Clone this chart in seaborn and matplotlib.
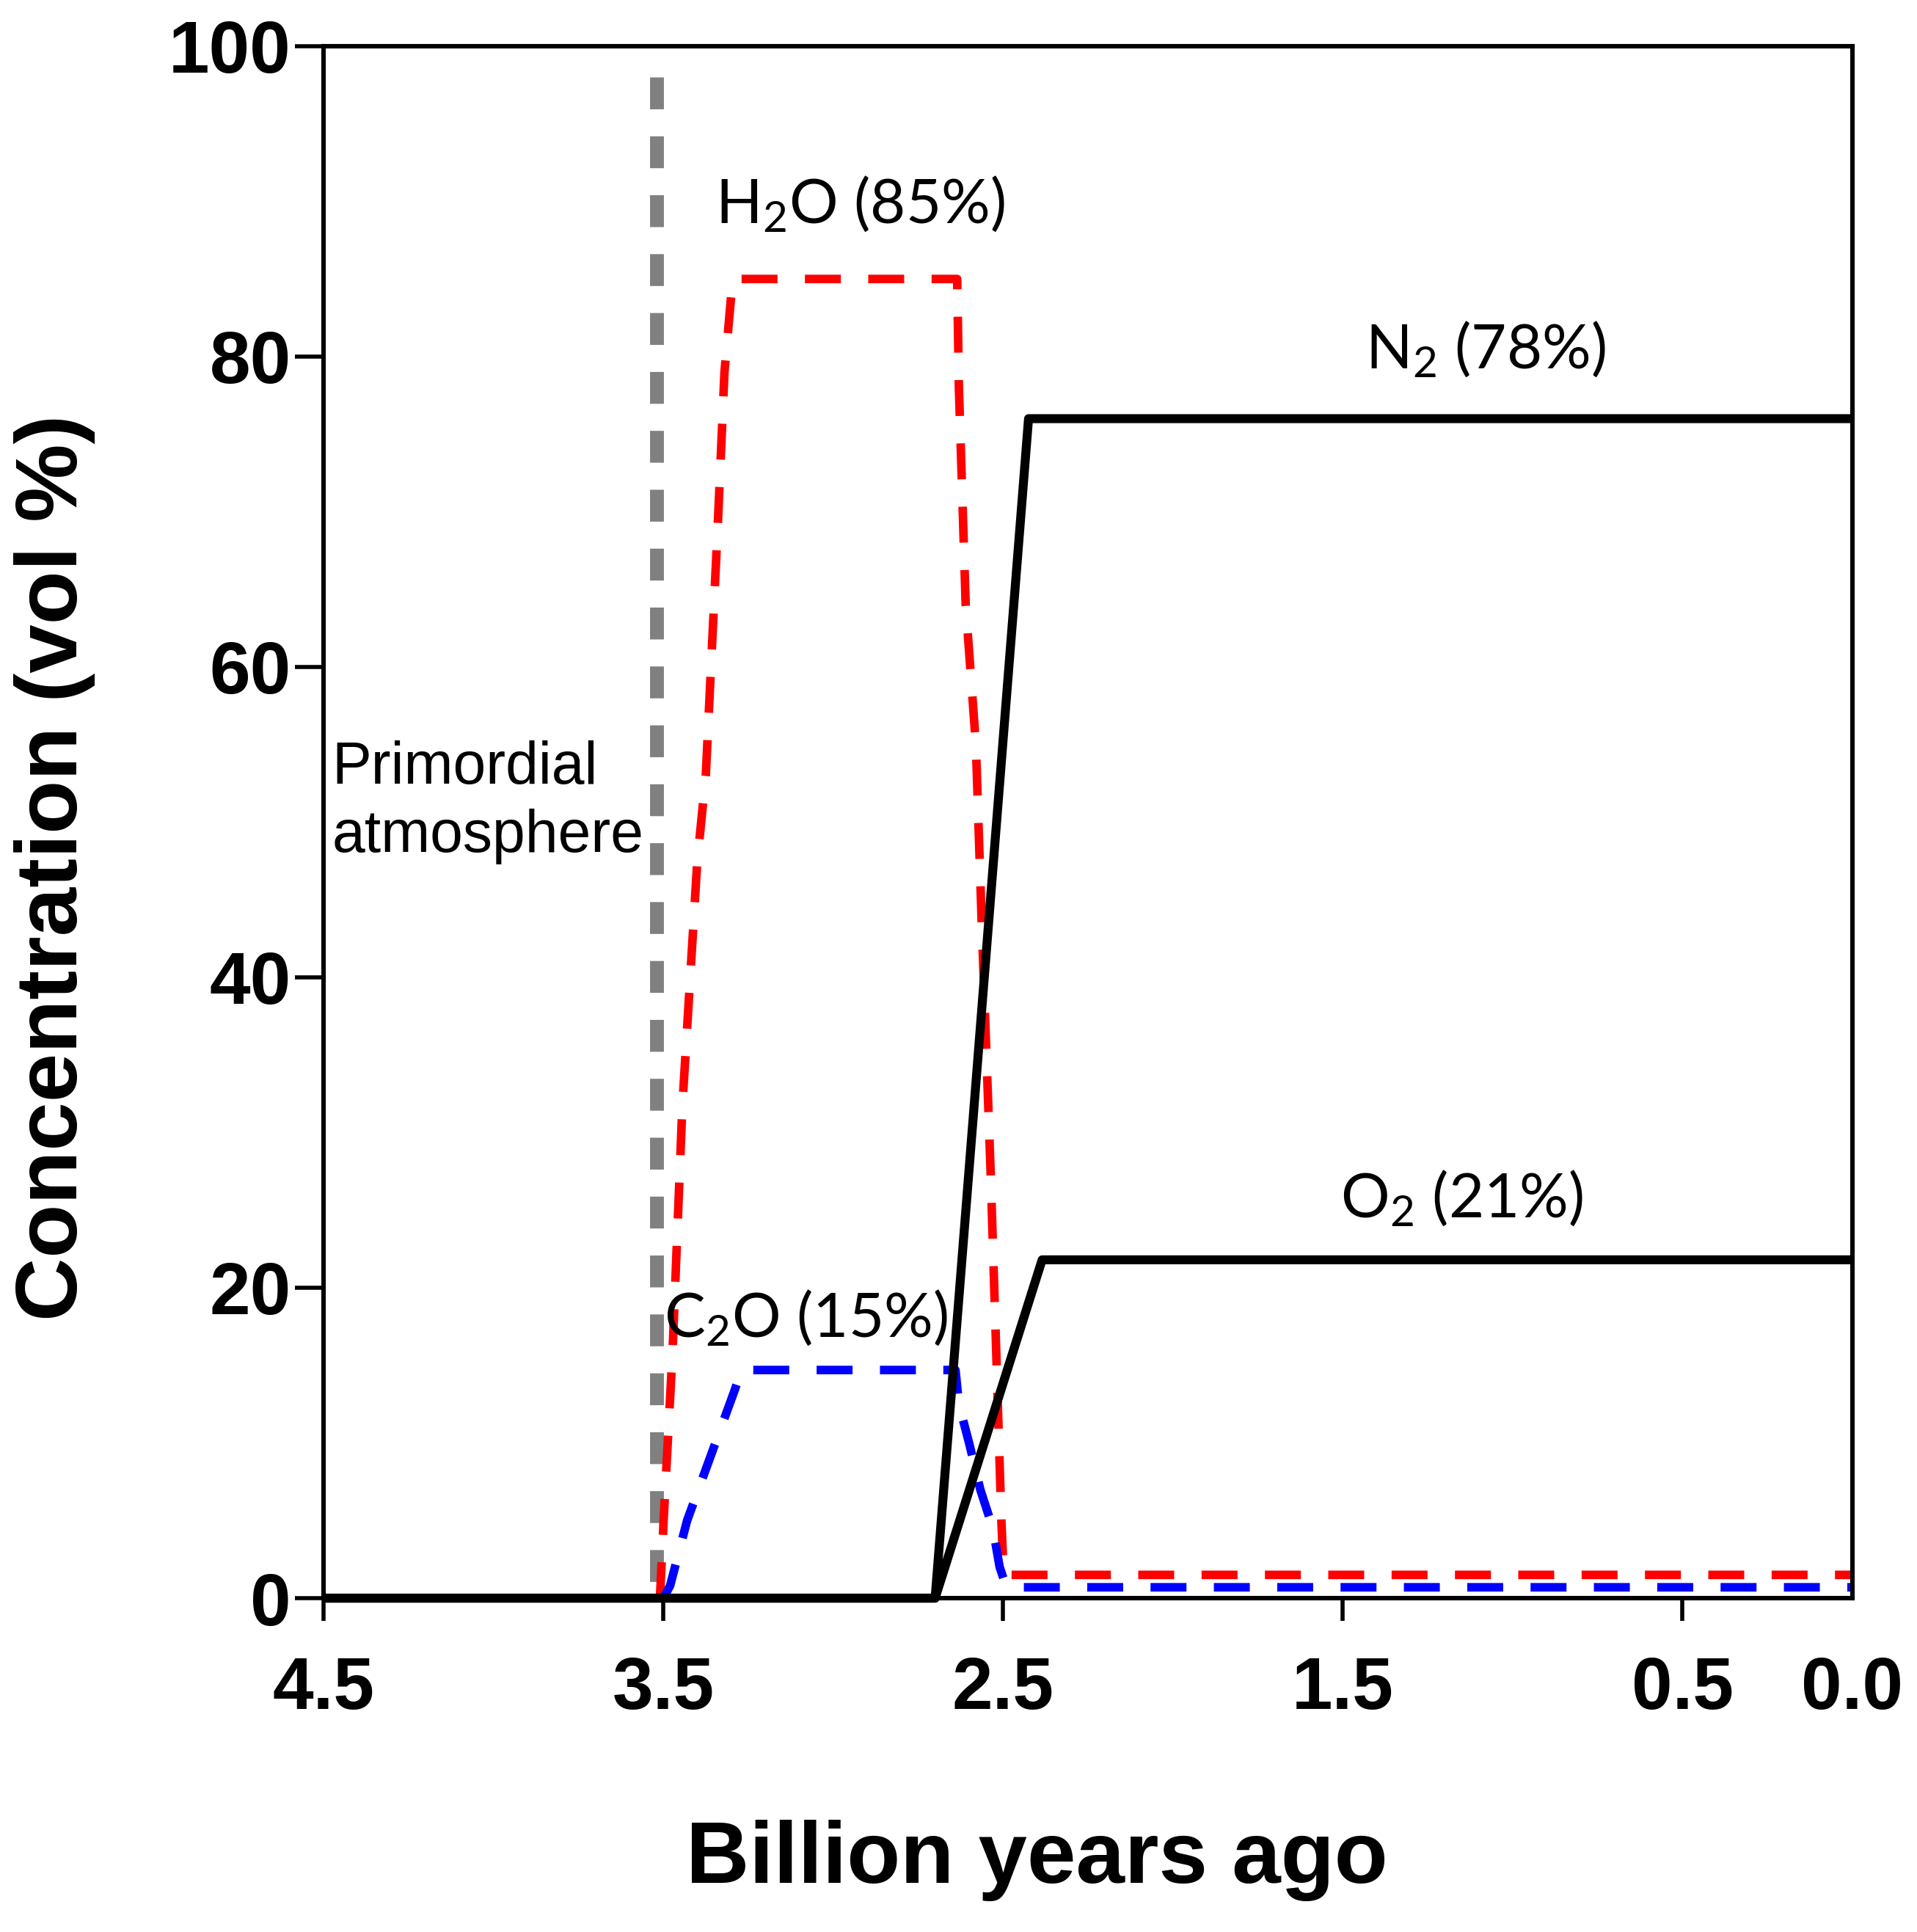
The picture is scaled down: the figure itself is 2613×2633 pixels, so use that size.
import matplotlib
matplotlib.use("Agg")
import matplotlib.pyplot as plt
import seaborn as sns

# values (x = billion years ago, y = vol %)
primordial_x = [3.52, 3.52]
primordial_y = [98, 0]

h2o_x = [3.51, 3.498, 3.473, 3.444, 3.40, 3.375, 3.34, 3.32, 3.296,
         2.635, 2.63, 2.61, 2.58, 2.563, 2.537, 2.52, 2.505, 2.498, 0.0]
h2o_y = [0, 5.5, 15.8, 31.7, 47.5, 53, 69, 79, 85,
         85, 78, 64, 55, 43.6, 27.7, 15.8, 5, 1.5, 1.5]

c2o_x = [3.50, 3.48, 3.43, 3.36, 3.29, 3.27, 2.64, 2.63, 2.60, 2.567, 2.53, 2.51, 2.49, 0.0]
c2o_y = [0, 0.8, 5, 9.2, 13.4, 14.7, 14.7, 12.5, 10, 7, 4.5, 2, 0.7, 0.7]

n2_x = [4.5, 2.70, 2.425, 0.0]
n2_y = [0, 0, 76, 76]

o2_x = [4.5, 2.70, 2.385, 0.0]
o2_y = [0, 0, 21.8, 21.8]

x_ticks = [4.5, 3.5, 2.5, 1.5, 0.5, 0.0]
x_ticklabels = ["4.5", "3.5", "2.5", "1.5", "0.5", "0.0"]
y_ticks = [0, 20, 40, 60, 80, 100]

sns.set_style("white")
plt.rcParams['font.family'] = ['Liberation Sans', 'DejaVu Sans']
plt.rcParams['mathtext.default'] = 'regular'
plt.rcParams['text.color'] = 'black'
plt.rcParams['axes.labelcolor'] = 'black'
plt.rcParams['xtick.color'] = 'black'
plt.rcParams['ytick.color'] = 'black'

fig = plt.figure(figsize=(2613 / 200, 2633 / 200), dpi=200)
ax = fig.add_axes([0.1688, 0.1728, 0.7975, 0.8033])

# the curves
sns.lineplot(x=primordial_x, y=primordial_y, ax=ax, estimator=None, sort=False,
             color="#808080", lw=6.8, linestyle=(0, (2.3, 1.95)), clip_on=False)
sns.lineplot(x=h2o_x, y=h2o_y, ax=ax, estimator=None, sort=False,
             color="red", lw=4.2, linestyle=(0, (4.2, 3.2)))
sns.lineplot(x=c2o_x, y=c2o_y, ax=ax, estimator=None, sort=False,
             color="blue", lw=4.2, linestyle=(0, (4.2, 3.2)))
sns.lineplot(x=n2_x, y=n2_y, ax=ax, estimator=None, sort=False,
             color="black", lw=4.4, clip_on=False, solid_capstyle="butt")
sns.lineplot(x=o2_x, y=o2_y, ax=ax, estimator=None, sort=False,
             color="black", lw=4.4, clip_on=False, solid_capstyle="butt")

ax.set_xlim(4.5, 0.0)
ax.set_ylim(0, 100)
ax.set_xticks(x_ticks)
ax.set_xticklabels(x_ticklabels)
ax.set_yticks(y_ticks)
ax.set_xlabel("")
ax.set_ylabel("")

for side in ["left", "right", "top", "bottom"]:
    ax.spines[side].set_visible(True)
    ax.spines[side].set_linewidth(2.2)
    ax.spines[side].set_color("black")

ax.tick_params(axis="x", direction="out", length=11, width=2, pad=17,
               labelsize=36, bottom=True)
ax.tick_params(axis="y", direction="out", length=14, width=2, pad=2,
               labelsize=36, left=True)
for lbl in ax.get_xticklabels() + ax.get_yticklabels():
    lbl.set_fontweight("bold")
ax.xaxis.get_major_ticks()[-1].tick1line.set_visible(False)

# labels on the curves
lab_font = dict(family="Lato", fontsize=30, ha="center", va="baseline", color="black")
ax.text(2.92, 88.6, r"H$_2$O (85%)", **lab_font)
ax.text(1.08, 79.2, r"N$_2$ (78%)", **lab_font)
ax.text(1.15, 24.5, r"O$_2$ (21%)", **lab_font)
ax.text(3.08, 16.8, r"C$_2$O (15%)", **lab_font)
ax.text(4.476, 52.5, "Primordial", fontsize=29, ha="left", va="baseline")
ax.text(4.476, 48.1, "atmosphere", fontsize=29, ha="left", va="baseline")

# axis titles
fig.text(0.541, 0.0254, "Billion years ago", fontsize=43, fontweight="bold",
         ha="center", va="baseline")
fig.text(0.0287, 0.551, "Concentration (vol %)", fontsize=43, fontweight="bold",
         rotation=90, ha="center", va="center")

fig.savefig("out.png", dpi=200)
